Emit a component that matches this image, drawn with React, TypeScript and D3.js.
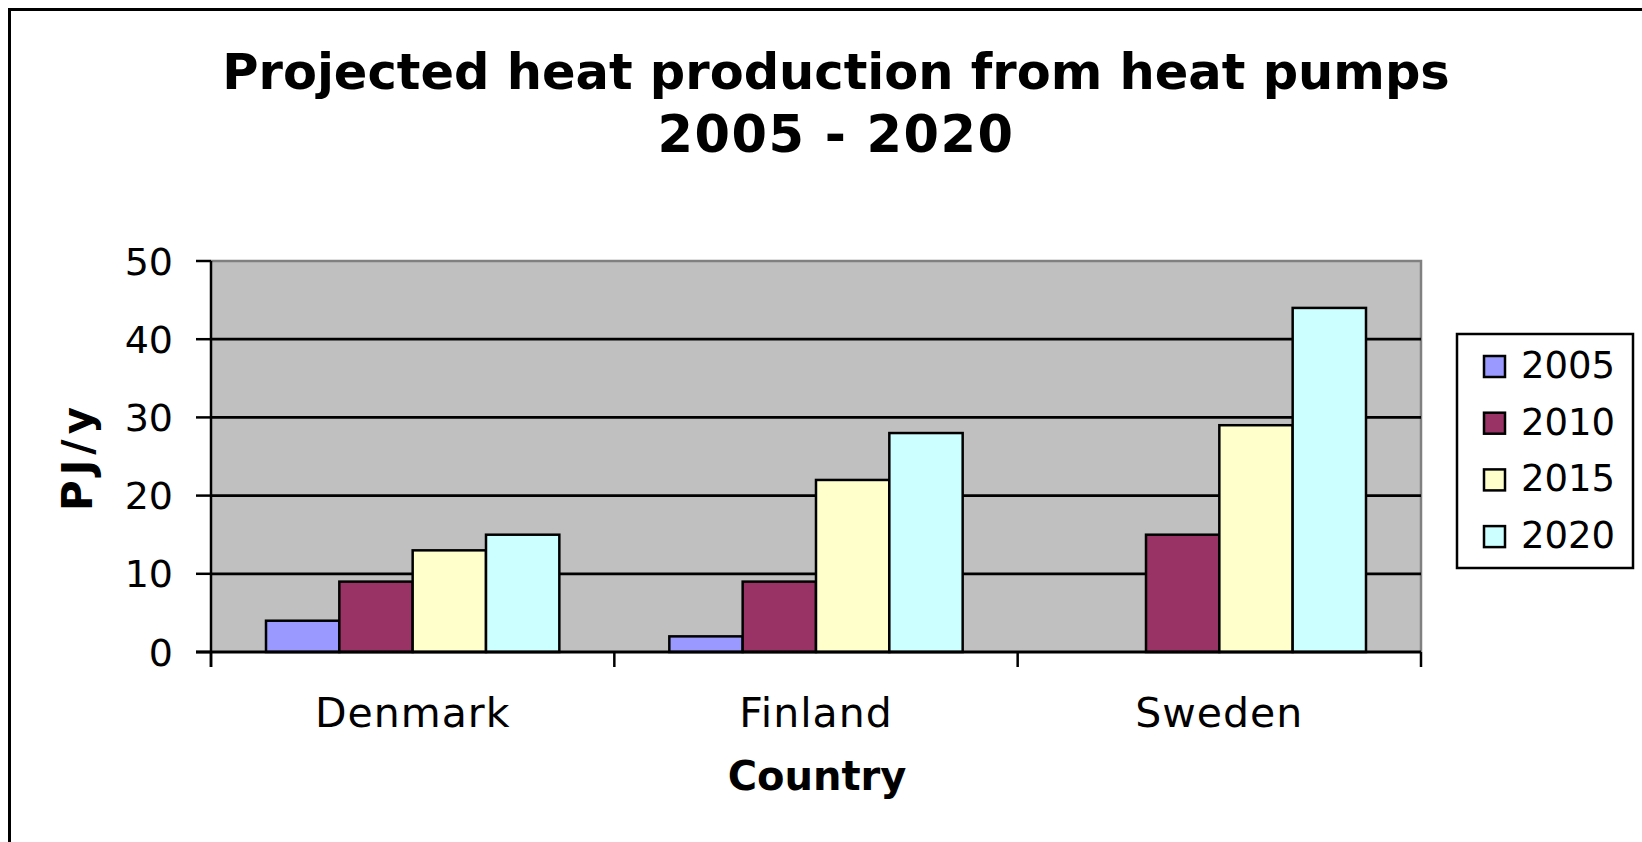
import React from "react";
import * as d3 from "d3";

const countries = ["Denmark", "Finland", "Sweden"];
const years = ["2005", "2010", "2015", "2020"];
const colors = ["#9999FF", "#993366", "#FFFFCC", "#CCFFFF"];
// PJ/y per country, one list per year
const v2005 = [4, 2, 0];
const v2010 = [9, 9, 15];
const v2015 = [13, 22, 29];
const v2020 = [15, 28, 44];
const yTicks = [0, 10, 20, 30, 40, 50];

const series = [v2005, v2010, v2015, v2020];

const W = 1642;
const H = 842;
const plot = { left: 211, right: 1421, top: 261, bottom: 652 };
const font = "'DejaVu Sans', Verdana, sans-serif";

const App = () => {
  const x0 = d3.scaleBand().domain(countries).range([plot.left, plot.right]).padding(0);
  const x1 = d3
    .scaleBand()
    .domain(years)
    .range([0, x0.bandwidth()])
    .paddingInner(0)
    .paddingOuter(0.75);
  const y = d3.scaleLinear().domain([0, 50]).range([plot.bottom, plot.top]);

  const boundaries = [...countries.map((c) => x0(c) as number), plot.right];

  return (
    <svg
      width={W}
      height={H}
      style={{ position: "absolute", left: 0, top: 0, background: "#fff" }}
      fontFamily={font}
    >
      {/* chart area border, runs off the right and bottom edges */}
      <rect x={9.5} y={9.5} width={1680} height={900} fill="#fff" stroke="#000" strokeWidth={3} />

      <text x={836} y={89} textAnchor="middle" fontWeight="bold" fontSize={49.5}>
        Projected heat production from heat pumps
      </text>
      <text x={836} y={152} textAnchor="middle" fontWeight="bold" fontSize={51} letterSpacing={1.5}>
        2005 - 2020
      </text>

      {/* plot area */}
      <rect
        x={plot.left}
        y={plot.top}
        width={plot.right - plot.left}
        height={plot.bottom - plot.top}
        fill="#C0C0C0"
      />
      <path
        d={`M${plot.left},${plot.top}H${plot.right}V${plot.bottom}`}
        fill="none"
        stroke="#808080"
        strokeWidth={2.5}
      />
      {yTicks
        .filter((t) => t > 0 && t < 50)
        .map((t) => (
          <line key={t} x1={plot.left} x2={plot.right} y1={y(t)} y2={y(t)} stroke="#000" strokeWidth={2.8} />
        ))}

      {/* bars */}
      {countries.map((c, ci) => (
        <g key={c} transform={`translate(${x0(c)},0)`}>
          {years.map((yr, si) => {
            const v = series[si][ci];
            if (!v) return null;
            return (
              <rect
                key={yr}
                x={x1(yr)}
                y={y(v)}
                width={x1.bandwidth()}
                height={y(0) - y(v)}
                fill={colors[si]}
                stroke="#000"
                strokeWidth={2.5}
              />
            );
          })}
        </g>
      ))}

      {/* axes */}
      <line x1={plot.left} x2={plot.left} y1={plot.top} y2={plot.bottom + 15} stroke="#000" strokeWidth={2.5} />
      <line x1={plot.left - 15} x2={plot.right} y1={plot.bottom} y2={plot.bottom} stroke="#000" strokeWidth={2.8} />
      {yTicks.map((t) => (
        <g key={t}>
          <line x1={plot.left - 15} x2={plot.left} y1={y(t)} y2={y(t)} stroke="#000" strokeWidth={2.5} />
          <text x={173} y={y(t)} dy="0.36em" textAnchor="end" fontSize={38}>
            {t}
          </text>
        </g>
      ))}
      {boundaries.map((b, i) => (
        <line key={i} x1={b} x2={b} y1={plot.bottom} y2={plot.bottom + 15} stroke="#000" strokeWidth={2.5} />
      ))}
      {countries.map((c) => (
        <text
          key={c}
          x={(x0(c) as number) + x0.bandwidth() / 2}
          y={727}
          textAnchor="middle"
          fontSize={41}
          letterSpacing={1}
        >
          {c}
        </text>
      ))}

      <text x={817} y={790} textAnchor="middle" fontWeight="bold" fontSize={40}>
        Country
      </text>
      <text
        transform={`translate(92,${(plot.top + plot.bottom) / 2}) rotate(-90)`}
        textAnchor="middle"
        fontWeight="bold"
        fontSize={42}
        letterSpacing={5}
      >
        PJ/y
      </text>

      {/* legend */}
      <rect x={1457} y={334} width={176} height={234} fill="#fff" stroke="#000" strokeWidth={2.5} />
      {years.map((yr, i) => {
        const base = 378 + i * 56.7;
        return (
          <g key={yr}>
            <rect x={1484} y={base - 22} width={21} height={21} fill={colors[i]} stroke="#000" strokeWidth={2.5} />
            <text x={1521} y={base} fontSize={37}>
              {yr}
            </text>
          </g>
        );
      })}
    </svg>
  );
};

export default App;
